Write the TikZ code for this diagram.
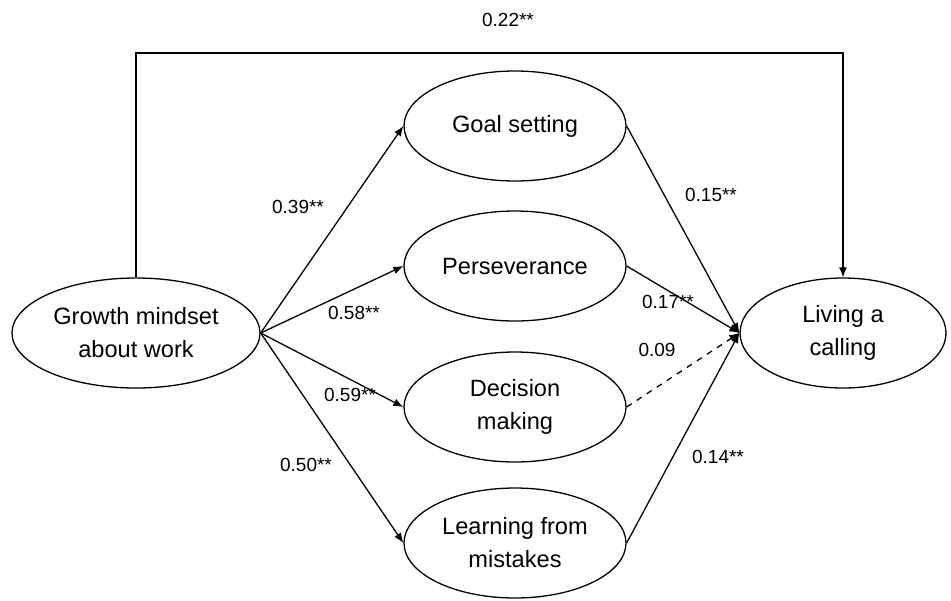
\documentclass[tikz,border=0pt]{standalone}
\usepackage{fontspec}
\setmainfont{Liberation Sans}
\usetikzlibrary{arrows.meta,shapes.geometric}

\tikzset{
  latent/.style={draw, ellipse, inner sep=0pt, minimum width=111pt, minimum height=55pt, align=center, font=\fontsize{11.8}{16.5}\selectfont},
  path/.style={line width=0.65pt, -{Latex[length=5pt,width=4pt]}},
  coef/.style={font=\fontsize{9.5}{11}\selectfont}
}

\begin{document}
\begin{tikzpicture}[x=0.5pt, y=-0.5pt, line width=0.65pt]
  \useasboundingbox (0,0) rectangle (951,600);
  % constructs
  \node[latent, minimum width=124pt] (gm) at (136,333) {Growth mindset\\about work};
  \node[latent] (goal) at (515,126) {Goal setting};
  \node[latent] (pers) at (515,266) {Perseverance};
  \node[latent] (dec) at (515,407) {Decision\\making};
  \node[latent] (learn) at (515,543) {Learning from\\mistakes};
  \node[latent, minimum width=103pt] (live) at (843,333) {Living a\\calling};
  % direct effect
  \coordinate (topline) at (500,53);
  \draw[path] (gm.north) |- (topline) -| (live.north);
  \node[coef] (c22) at (508,20) {0.22**};
  % a paths
  \draw[path] (gm.east) -- (goal.west);
  \draw[path] (gm.east) -- (pers.west);
  \draw[path] (gm.east) -- (dec.west);
  \draw[path] (gm.east) -- (learn.west);
  \node[coef] (c39) at (298,207) {0.39**};
  \node[coef] (c58) at (354,313) {0.58**};
  \node[coef] (c59) at (350,395) {0.59**};
  \node[coef] (c50) at (306,465) {0.50**};
  % b paths
  \draw[path] (goal.east) -- (live.west);
  \draw[path] (pers.east) -- (live.west);
  \draw[path, dashed] (dec.east) -- (live.west);
  \draw[path] (learn.east) -- (live.west);
  \node[coef] (c15) at (711,195) {0.15**};
  \node[coef] (c17) at (668,302) {0.17**};
  \node[coef] (c09) at (657,350) {0.09};
  \node[coef] (c14) at (718,457) {0.14**};
\end{tikzpicture}
\end{document}
